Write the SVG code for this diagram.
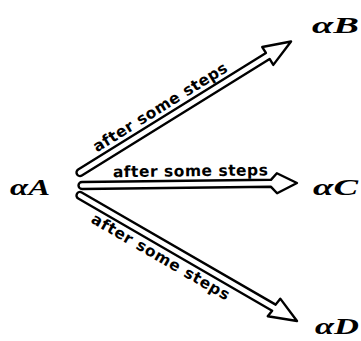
<svg xmlns="http://www.w3.org/2000/svg" width="361" height="341" viewBox="0 0 361 341">
<defs>
<style>
.arr{fill:#fff;stroke:#000;stroke-width:2.4;stroke-linejoin:round}
.lbl{font-family:"DejaVu Sans",sans-serif;font-weight:bold;font-size:15.5px;fill:#000}
.node{font-family:"Liberation Serif",serif;font-weight:bold;font-style:italic;font-size:23px;fill:#000}
</style>
</defs>
<rect width="361" height="341" fill="#fff"/>
<g id="connectors">
<g id="arrow-B" transform="translate(80,172.5) rotate(-31.83)">
<path class="arr" d="M0,-3.5 L221,-3.5 L221,-10.5 L248.4,0 L221,10.5 L221,3.5 L0,3.5 A3.5,3.5 0 0 1 0,-3.5 Z"/>
<text class="lbl" x="25" y="-8" textLength="155" lengthAdjust="spacing">after some steps</text>
</g>
<g id="arrow-C" transform="translate(82,185.5) rotate(-0.66)">
<path class="arr" d="M0,-3.5 L189,-3.5 L195,-10 L215,0 L195,10 L189,3.5 L0,3.5 A3.5,3.5 0 0 1 0,-3.5 Z"/>
<text class="lbl" x="31" y="-8" textLength="155" lengthAdjust="spacing">after some steps</text>
</g>
<g id="arrow-D" transform="translate(80,195.5) rotate(30.05)">
<path class="arr" d="M0,-3.5 L224,-3.5 L225,-11 L250.7,0 L223,10.5 L224,3.5 L0,3.5 A3.5,3.5 0 0 1 0,-3.5 Z"/>
<text class="lbl" x="22" y="18" textLength="157" lengthAdjust="spacing">after some steps</text>
</g>
</g>
<g id="node-A"><text class="node" x="10" y="195" textLength="40" lengthAdjust="spacingAndGlyphs">αA</text></g>
<g id="node-B"><text class="node" x="312" y="33" textLength="47" lengthAdjust="spacingAndGlyphs">αB</text></g>
<g id="node-C"><text class="node" x="313" y="195" textLength="45" lengthAdjust="spacingAndGlyphs">αC</text></g>
<g id="node-D"><text class="node" x="315" y="334" textLength="44" lengthAdjust="spacingAndGlyphs">αD</text></g>
</svg>
